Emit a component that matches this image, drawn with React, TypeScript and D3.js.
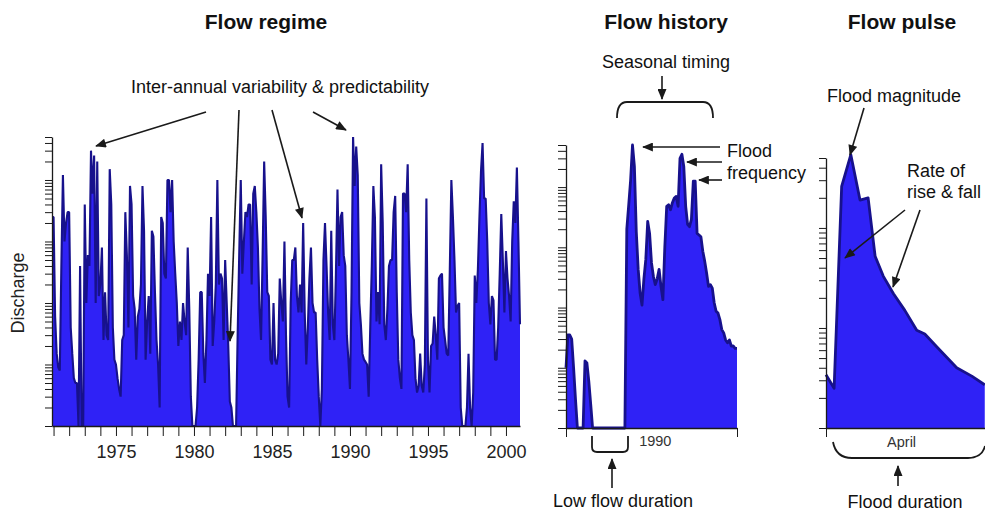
import { useEffect, useRef } from 'react';
import * as d3 from 'd3';

// Flow regime: discharge sampled every 0.1 year, starting late 1970
const regimeStart = 1970.9;
const regimeStep = 0.1;
const regimeFlow = [
  2500, 2500, 60, 15, 9, 8, 400, 12000, 1000, 2000,
  3000, 3000, 40, 15, 6, 5, 5, 1, 400, 1,
  1, 4000, 100, 600, 400, 30000, 6000, 25000, 100, 20000,
  130, 200, 800, 25, 150, 30, 25, 15000, 4000, 40,
  12, 10, 6, 4, 3, 25, 30, 3000, 600, 40,
  8000, 4000, 130, 80, 12, 60, 80, 200, 8000, 1500,
  12, 50, 130, 15, 1500, 1200, 150, 25, 10, 2,
  2500, 2000, 300, 250, 10000, 10000, 3000, 10000, 1000, 300,
  100, 20, 50, 25, 100, 50, 30, 800, 80, 3,
  1, 1, 1, 2, 12, 150, 150, 15, 5, 25,
  300, 130, 2500, 20, 50, 200, 10000, 200, 300, 250,
  25, 500, 100, 20, 2.5, 2, 1, 1, 1, 30,
  600, 10000, 300, 1000, 3000, 2500, 4000, 4000, 200, 6000,
  8000, 3000, 800, 80, 25, 600, 20000, 2500, 150, 130,
  12, 10, 100, 12, 10, 15, 250, 100, 50, 1000,
  30, 3, 2, 100, 500, 500, 800, 130, 70, 200,
  70, 2000, 70, 10, 40, 250, 800, 100, 70, 70,
  12, 3, 1, 4, 500, 2000, 400, 70, 25, 1500,
  45, 25, 300, 7000, 400, 2500, 3000, 600, 400, 30,
  12, 4, 150, 50000, 8000, 35000, 12000, 100, 45, 15,
  12, 11, 10, 3, 40, 400, 8000, 2500, 50, 150,
  45, 18000, 2000, 45, 25, 80, 400, 500, 500, 3000,
  5500, 150, 12, 6, 4, 6000, 6000, 3000, 18000, 500,
  70, 30, 25, 6, 3.5, 4.5, 15, 4.5, 3.5, 10,
  5000, 12, 3.5, 20, 22, 60, 30, 12, 250, 280,
  300, 40, 25, 15, 14, 350, 10000, 2500, 500, 70,
  90, 100, 2, 1, 1, 1, 2, 15, 2, 1,
  3.5, 280, 100, 350, 2500, 14000, 40000, 5000, 5000, 1000,
  100, 45, 130, 110, 12, 12, 40, 300, 2800, 500,
  70, 700, 250, 130, 50, 1000, 4500, 2000, 16000, 1000,
  45,
];
const regimeTickYears = d3.range(1971, 2001);
const regimeLabelYears = [1975, 1980, 1985, 1990, 1995, 2000];

// Flow history: one water year, discharge every 4 days
const historyStep = 4;
const historyFlow = [
  10, 35, 35, 30, 10, 3, 1, 1, 1, 1,
  13, 12, 6, 2.5, 1, 1, 1, 1, 1, 1,
  1, 1, 1, 1, 1, 1, 1, 1, 1, 1,
  1, 1, 2000, 5000, 13000, 50000, 22000, 1800, 430, 175,
  110, 300, 630, 2700, 1700, 550, 330, 240, 300, 430,
  225, 135, 1000, 4800, 5100, 4200, 5500, 6600, 7000, 4800,
  30000, 35000, 22000, 4800, 2400, 2200, 2900, 12500, 12500, 1700,
  1600, 1500, 860, 590, 375, 225, 240, 210, 120, 87,
  81, 63, 43, 38, 29, 26, 29, 23, 23, 21,
  21,
];
const historyYear = '1990';

// Flow pulse: one flood in April (day, discharge)
const pulseDays = [0, 1.5, 2.9, 4.6, 6.3, 7.8, 9.1, 10.6, 12.5, 14.6, 16.8, 18.3, 20.5, 24.2, 27, 29.4];
const pulseFlow = [3.4, 2.5, 260, 540, 190, 200, 52, 33, 22, 15, 9.5, 8.7, 6.5, 4, 3.3, 2.7];
const pulseMonth = 'April';

const FONT = "'Liberation Sans', Arial, Helvetica, sans-serif";
const FILL = '#2f22f6';
const EDGE = '#17118c';
const INK = '#1a1a1a';

const App = () => {
  const svgRef = useRef<SVGSVGElement>(null);

  useEffect(() => {
    if (!svgRef.current) return;
    const svg = d3.select(svgRef.current);
    svg.selectAll('*').remove();
    svg.attr('width', 985).attr('height', 517).style('font-family', FONT);

    svg.append('defs').append('marker')
      .attr('id', 'head')
      .attr('viewBox', '0 0 12 10')
      .attr('refX', 11)
      .attr('refY', 5)
      .attr('markerWidth', 12)
      .attr('markerHeight', 9)
      .attr('markerUnits', 'userSpaceOnUse')
      .attr('orient', 'auto')
      .append('path')
      .attr('d', 'M0,0L12,5L0,10z')
      .attr('fill', INK);

    const styleAxis = (g: any) => {
      g.attr('font-family', FONT).attr('font-size', 18);
      g.select('path.domain').attr('stroke', INK).attr('stroke-width', 1.3);
      g.selectAll('.tick line').attr('stroke', INK).attr('stroke-width', 1);
      g.selectAll('.tick text').attr('fill', '#222');
    };

    // ---------- Flow regime ----------
    const rx = d3.scaleLinear().domain([1970.9, 2000.9]).range([52, 520]);
    const ry = d3.scaleLog().domain([1, 50000]).range([426, 137]);
    const rArea = d3.area<number>()
      .x((_, i) => rx(regimeStart + i * regimeStep))
      .y0(ry(1))
      .y1(d => ry(d));
    const rLine = d3.line<number>()
      .x((_, i) => rx(regimeStart + i * regimeStep))
      .y(d => ry(d));

    svg.append('path').datum(regimeFlow).attr('d', rArea).attr('fill', FILL);
    svg.append('path').datum(regimeFlow).attr('d', rLine)
      .attr('fill', 'none').attr('stroke', EDGE).attr('stroke-width', 2.1)
      .attr('stroke-linejoin', 'bevel');

    svg.append('g').attr('transform', `translate(52,0)`)
      .call(d3.axisLeft(ry).tickValues(ry.ticks()).tickSize(7).tickSizeOuter(0).tickFormat(() => ''))
      .call(styleAxis);
    svg.append('g').attr('transform', `translate(0,426)`)
      .call(d3.axisBottom(rx).tickValues(regimeTickYears).tickSize(10).tickSizeOuter(0).tickPadding(9)
        .tickFormat(d => (regimeLabelYears.includes(+d) ? String(d) : '')))
      .call(styleAxis);

    // ---------- Flow history ----------
    const hx = d3.scaleLinear().domain([0, 360]).range([566, 737]);
    const hy = d3.scaleLog().domain([1, 50000]).range([428, 145]);
    const hArea = d3.area<number>()
      .x((_, i) => hx(i * historyStep))
      .y0(hy(1))
      .y1(d => hy(d));
    const hLine = d3.line<number>()
      .x((_, i) => hx(i * historyStep))
      .y(d => hy(d));
    svg.append('path').datum(historyFlow).attr('d', hArea).attr('fill', FILL);
    svg.append('path').datum(historyFlow).attr('d', hLine)
      .attr('fill', 'none').attr('stroke', EDGE).attr('stroke-width', 2.8)
      .attr('stroke-linejoin', 'round');

    svg.append('g').attr('transform', `translate(566,0)`)
      .call(d3.axisLeft(hy).tickValues(hy.ticks()).tickSize(8).tickSizeOuter(0).tickFormat(() => ''))
      .call(styleAxis);
    svg.append('g').attr('transform', `translate(0,428)`)
      .call(d3.axisBottom(hx).tickValues([0, 360]).tickSize(9).tickSizeOuter(0).tickFormat(() => ''))
      .call(styleAxis);
    svg.append('text').attr('x', hx(188)).attr('y', 446)
      .attr('text-anchor', 'middle').attr('font-size', 14.5).attr('fill', '#333')
      .text(historyYear);

    // ---------- Flow pulse ----------
    const px = d3.scaleLinear().domain([0, 30]).range([826, 988]);
    const py = d3.scaleLog().domain([1, 500]).range([428, 158]);
    const pArea = d3.area<number>()
      .x((_, i) => px(pulseDays[i]))
      .y0(py(1))
      .y1(d => py(d));
    const pLine = d3.line<number>()
      .x((_, i) => px(pulseDays[i]))
      .y(d => py(d));
    svg.append('path').datum(pulseFlow).attr('d', pArea).attr('fill', FILL);
    svg.append('path').datum(pulseFlow).attr('d', pLine)
      .attr('fill', 'none').attr('stroke', EDGE).attr('stroke-width', 2.8)
      .attr('stroke-linejoin', 'round');

    svg.append('g').attr('transform', `translate(826,0)`)
      .call(d3.axisLeft(py).tickValues(py.ticks()).tickSize(7).tickSizeOuter(0).tickFormat(() => ''))
      .call(styleAxis);
    svg.append('g').attr('transform', `translate(0,428)`)
      .call(d3.axisBottom(px).tickValues([0]).tickSize(9).tickSizeOuter(0).tickFormat(() => ''))
      .call(styleAxis);
    svg.append('text').attr('x', px(14)).attr('y', 447)
      .attr('text-anchor', 'middle').attr('font-size', 14.5).attr('fill', '#333')
      .text(pulseMonth);

    // ---------- Titles and notes ----------
    const titles: [string, number][] = [['Flow regime', 266], ['Flow history', 666], ['Flow pulse', 902]];
    titles.forEach(([t, x]) => {
      svg.append('text').attr('x', x).attr('y', 29).attr('text-anchor', 'middle')
        .attr('font-size', 21).attr('font-weight', 'bold').attr('fill', '#111').text(t);
    });

    const notes: [string, number, number, string][] = [
      ['Inter-annual variability & predictability', 280, 93, 'middle'],
      ['Seasonal timing', 666, 68, 'middle'],
      ['Flood magnitude', 894, 102, 'middle'],
      ['Flood', 727, 157, 'start'],
      ['frequency', 727, 179, 'start'],
      ['Rate of', 907, 177, 'start'],
      ['rise & fall', 907, 198, 'start'],
      ['Low flow duration', 623, 507, 'middle'],
      ['Flood duration', 905, 508, 'middle'],
    ];
    notes.forEach(([t, x, y, a]) => {
      svg.append('text').attr('x', x).attr('y', y).attr('text-anchor', a)
        .attr('font-size', 18).attr('fill', '#111').text(t);
    });

    svg.append('text')
      .attr('transform', 'translate(24,293) rotate(-90)')
      .attr('text-anchor', 'middle').attr('font-size', 18).attr('fill', '#222')
      .text('Discharge');

    const arrows: [number, number, number, number][] = [
      [206, 112, 96, 146],
      [239, 110, 230, 341],
      [272, 110, 302, 218],
      [313, 112, 346, 130],
      [662, 76, 662, 99],
      [720, 147, 643, 147],
      [722, 162, 687, 162],
      [722, 180, 699, 180],
      [864, 108, 850, 155],
      [905, 210, 845, 258],
      [920, 210, 893, 287],
      [612, 488, 612, 459],
      [898, 486, 898, 466],
    ];
    arrows.forEach(([x1, y1, x2, y2]) => {
      svg.append('line').attr('x1', x1).attr('y1', y1).attr('x2', x2).attr('y2', y2)
        .attr('stroke', INK).attr('stroke-width', 1.6).attr('marker-end', 'url(#head)');
    });

    const braces = [
      'M617,118 Q617,102 627,102 L703,102 Q713,102 713,118',
      'M592,436 L592,447 Q592,452 597,452 L623,452 Q628,452 628,447 L628,436',
      'M833,442 Q836,458 852,458 L968,458 Q982,458 985,446',
    ];
    braces.forEach(d => {
      svg.append('path').attr('d', d).attr('fill', 'none')
        .attr('stroke', INK).attr('stroke-width', 1.8);
    });
  }, []);

  return (
    <div style={{ position: 'absolute', left: 0, top: 0 }}>
      <svg ref={svgRef}></svg>
    </div>
  );
};

export default App;
